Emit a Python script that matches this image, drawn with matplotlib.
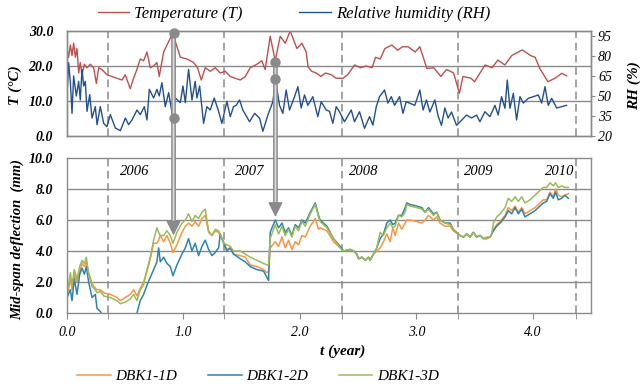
import matplotlib
matplotlib.use('Agg')
import matplotlib.pyplot as plt
from matplotlib.patches import ConnectionPatch
from matplotlib.lines import Line2D
from matplotlib.ticker import FormatStrFormatter

plt.rcParams['font.family'] = ['Liberation Serif', 'DejaVu Serif']

# temperature (T, deg C)
t_temp = [0.00, 0.014, 0.029, 0.043, 0.057, 0.072, 0.086, 0.10, 0.114, 0.129,
          0.149, 0.172, 0.20, 0.229, 0.252, 0.272, 0.30, 0.343, 0.386, 0.429,
          0.472, 0.50, 0.543, 0.572, 0.60, 0.629, 0.658, 0.687, 0.715, 0.744,
          0.772, 0.792, 0.83, 0.873, 0.91, 0.93, 0.973, 1.03, 1.087, 1.121,
          1.153, 1.187, 1.23, 1.273, 1.316, 1.359, 1.402, 1.445, 1.488, 1.531,
          1.573, 1.631, 1.673, 1.702, 1.745, 1.788, 1.831, 1.874, 1.917, 1.974,
          2.017, 2.054,
          2.07, 2.10, 2.14, 2.18, 2.22, 2.27, 2.31, 2.37, 2.41, 2.47,
          2.52, 2.57, 2.62, 2.65, 2.69, 2.73, 2.79, 2.84, 2.88, 2.93,
          2.99, 3.03, 3.09, 3.15, 3.21, 3.26, 3.32, 3.37, 3.40, 3.47,
          3.50, 3.59, 3.65, 3.70, 3.76, 3.82, 3.91, 3.98, 4.02, 4.06,
          4.13, 4.19, 4.25, 4.29]
temp = [25, 22.5, 26, 23, 26.5, 22.5, 25, 18, 21, 17.5,
        20.5, 19.5, 20.5, 19.5, 15, 19.5, 19, 17.5, 17, 16.5,
        16, 17.5, 13.5, 16.5, 19, 22, 21.5, 24, 19.5, 20,
        21, 17, 24, 27, 29.5, 27, 22.5, 22, 21, 19.5,
        16, 19.5, 18.5, 19.5, 18, 18.5, 17, 16.5, 16, 17,
        19.5, 20.5, 21.5, 19, 28.5, 21.5, 28.5, 26.5, 30, 25,
        26.5, 24,
        19.8, 18.5, 18, 17, 18, 17.5, 16.5, 16.5, 17.5, 20.3,
        19.5, 20, 19.5, 22.5, 22, 25, 26, 24.5, 25.5, 25.5,
        24, 25.5, 19.3, 19.5, 17, 19, 18, 12.2, 17, 16.5,
        15.5, 20.3, 19.5, 21.7, 20.3, 23, 24.6, 23, 22.5, 19.3,
        15.5, 16.5, 17.9, 17.2]

# relative humidity (RH, %)
t_rh = [0.000, 0.014, 0.029, 0.043, 0.057, 0.080, 0.100, 0.114, 0.129, 0.143,
        0.157, 0.172, 0.195, 0.215, 0.243, 0.258, 0.286, 0.315, 0.343, 0.372,
        0.415, 0.458, 0.501, 0.529, 0.558, 0.601, 0.629, 0.664, 0.687, 0.707,
        0.744, 0.772, 0.792, 0.815, 0.844, 0.873, 0.910, 0.930, 0.973, 0.996,
        1.016, 1.044, 1.073, 1.101, 1.116, 1.139, 1.173, 1.201, 1.230, 1.264,
        1.302, 1.330, 1.373, 1.402, 1.430, 1.453, 1.482,
        1.51, 1.568, 1.611, 1.654, 1.682, 1.725, 1.768, 1.791, 1.825, 1.854,
        1.882, 1.911, 1.954, 1.983, 2.011, 2.04, 2.068, 2.111, 2.154, 2.183,
        2.226, 2.254, 2.283, 2.312, 2.34, 2.383, 2.441, 2.469, 2.512, 2.555,
        2.598, 2.627, 2.656, 2.684, 2.727, 2.756, 2.785, 2.813, 2.856, 2.885,
        2.913, 2.987, 3.03, 3.058, 3.087, 3.116, 3.159, 3.187, 3.216, 3.245,
        3.273, 3.302, 3.345, 3.374, 3.431, 3.474, 3.517, 3.546, 3.589, 3.632,
        3.675, 3.703, 3.732, 3.761, 3.781, 3.804, 3.833, 3.861, 3.89, 3.919,
        3.962, 4.005, 4.047, 4.076, 4.105, 4.133, 4.162, 4.205, 4.248, 4.29]
rh = [51, 75, 60, 37, 65, 50, 61, 47, 70, 57.5,
      61, 38.5, 51, 33.5, 42, 28.5, 42, 29.5, 27, 36,
      26, 24, 33.5, 28.5, 32, 39.5, 36, 42, 32, 55,
      48.5, 55, 50, 60, 42, 52.5, 33.5, 48.5, 45, 57.5,
      45, 70, 47, 61, 48.5, 57.5, 29.5, 42, 39.5, 48.5,
      38.5, 29.5, 46, 34.5, 42, 43, 47,
      39.5, 30.7, 37, 33.3, 23.5, 35.7, 45.7, 62, 43, 37,
      54.5, 39.5, 49.5, 57, 41, 50.8, 43, 49.5, 34.5, 45.7,
      39.5, 38.5, 29.5, 42, 38.2, 30.7, 39.5, 30.7, 38.2, 25.8,
      34.5, 28.2, 42, 49.5, 54.5, 44.7, 49.5, 43, 49.5, 37,
      45.7, 43, 54.5, 39.5, 47, 38, 47, 35, 28, 41,
      33.5, 38, 28, 30.5, 35.7, 33.5, 35.7, 30.7, 38.2, 34.5,
      43, 35.7, 49.5, 40.8, 62, 40.8, 52, 32, 49.5, 44.7,
      48.3, 49.5, 50.8, 44.7, 57, 43, 48.3, 41, 42, 43]

# mid-span deflection (mm)
t_def = [0.000, 0.029, 0.043, 0.063, 0.086, 0.109, 0.129, 0.149, 0.166, 0.186,
         0.215, 0.243, 0.258, 0.286, 0.315, 0.372, 0.429, 0.458, 0.501, 0.543,
         0.572, 0.601, 0.629, 0.658, 0.687, 0.715, 0.744, 0.772, 0.787, 0.801,
         0.830, 0.858, 0.887, 0.910, 0.944, 0.987, 1.016, 1.044, 1.073, 1.101,
         1.130, 1.159, 1.187, 1.216, 1.244, 1.273, 1.302, 1.316, 1.345, 1.373,
         1.402, 1.430, 1.488, 1.531, 1.573, 1.631, 1.688, 1.717, 1.731, 1.745,
         1.788, 1.817, 1.846, 1.874, 1.903, 1.931, 1.960, 1.989, 2.017, 2.046,
         2.089, 2.132, 2.160, 2.174, 2.232, 2.289, 2.346, 2.375, 2.432, 2.461,
         2.489, 2.503, 2.532, 2.561, 2.589, 2.603, 2.632, 2.66, 2.689, 2.718,
         2.746, 2.775, 2.798, 2.818, 2.847, 2.875, 2.904, 2.918, 2.947, 3.004,
         3.047, 3.075, 3.104, 3.147, 3.175, 3.204, 3.247, 3.29, 3.318, 3.375,
         3.404, 3.433, 3.461, 3.49, 3.518, 3.547, 3.576, 3.604, 3.633, 3.647,
         3.662, 3.69, 3.719, 3.762, 3.79, 3.819, 3.848, 3.876, 3.905, 3.933,
         3.976, 4.019, 4.062, 4.09, 4.119, 4.148, 4.176, 4.196, 4.219, 4.248,
         4.276, 4.305]
dbk1_1d = [1.0, 2.2, 1.5, 2.5, 2.0, 2.7, 3.2, 3.0, 3.3, 2.6,
           1.9, 1.6, 1.5, 1.5, 1.3, 1.2, 1.0, 0.8, 1.0, 1.2,
           1.5, 1.1, 1.6, 2.0, 2.7, 3.5, 4.5, 4.5, 4.7, 5.0,
           4.6, 5.0, 4.5, 3.9, 4.4, 5.2, 5.6, 5.8, 5.6, 5.9,
           5.6, 6.1, 6.3, 5.2, 5.0, 5.3, 5.2, 5.0, 4.6, 4.1,
           4.2, 3.8, 3.7, 3.6, 3.1, 3.0, 2.8, 2.6, 2.7, 4.2,
           4.6, 4.3, 4.9, 4.2, 4.7, 4.1, 4.6, 4.4, 5.0, 4.9,
           5.6, 6.1, 5.4, 5.5, 5.3, 4.6, 4.2, 4.0, 4.1, 4.0,
           3.8, 3.5, 3.6, 3.4, 3.6, 3.4, 3.8, 4.0, 4.2, 4.6,
           5.1, 4.6, 5.5, 5.0, 5.8, 5.4, 5.8, 6.0, 6.0, 5.9,
           5.8, 6.0, 6.3, 6.0, 6.2, 5.8, 5.6, 5.6, 5.3, 5.0,
           4.9, 5.1, 4.9, 5.2, 4.9, 5.0, 4.8, 4.9, 4.9, 5.1,
           5.4, 5.7, 5.9, 6.3, 6.8, 6.6, 6.9, 6.5, 6.8, 6.4,
           6.6, 6.8, 7.1, 7.3, 7.3, 7.8, 7.5, 8.0, 7.6, 7.5,
           7.6, 7.7]
dbk1_2d = [1.0, 1.5, 0.8, 2.2, 1.2, 2.5, 2.9, 2.5, 3.0, 2.0,
           1.0, 1.2, 0.3, 0.1, -0.3, -1.0, -1.5, -1.5, -1.2, -0.8,
           -0.4, 0.0, 0.8, 1.2, 1.8, 2.3, 2.8, 3.3, 4.2, 3.3,
           3.6, 3.2, 3.0, 2.4, 3.1, 3.8, 4.2, 4.8, 4.0, 4.5,
           3.7, 4.3, 4.7, 4.1, 3.7, 3.9, 4.2, 5.1, 4.5, 4.0,
           4.2, 3.8, 3.5, 3.3, 3.0, 2.8, 2.7, 2.3, 2.1, 5.2,
           6.0, 5.5, 5.8, 5.2, 5.5, 5.0, 5.7, 5.5, 6.0, 5.8,
           6.5, 7.1, 6.3, 6.0, 5.6, 4.8, 4.3, 4.0, 4.1, 4.0,
           3.8, 3.5, 3.6, 3.4, 3.6, 3.4, 3.8, 4.2, 4.8, 5.1,
           5.8, 6.0, 5.7, 5.8, 6.3, 6.3, 6.8, 7.1, 7.0, 6.9,
           6.8, 6.5, 6.8, 6.4, 6.5, 6.0, 5.8, 5.8, 5.4, 5.0,
           4.9, 5.1, 4.9, 5.2, 4.9, 5.0, 4.8, 4.8, 4.9, 5.1,
           5.3, 5.6, 5.8, 6.2, 6.6, 6.4, 6.8, 6.4, 6.7, 6.2,
           6.4, 6.6, 6.9, 7.1, 7.2, 7.7, 7.4, 7.8, 7.3, 7.4,
           7.6, 7.4]
dbk1_3d = [1.2, 2.6, 1.8, 2.8, 2.2, 3.0, 3.4, 3.2, 3.6, 2.5,
           1.7, 1.5, 1.3, 1.4, 1.1, 1.0, 0.8, 0.6, 0.7, 0.9,
           1.2, 0.8, 1.5, 1.8, 2.8, 3.6, 4.7, 5.5, 5.2, 5.0,
           5.0, 5.3, 5.0, 4.5, 5.2, 5.8, 6.0, 6.4, 5.9, 6.3,
           6.1, 6.5, 6.7, 5.3, 5.0, 5.4, 5.3, 5.1, 4.5, 4.4,
           4.3, 4.0, 4.0, 3.8, 3.6, 3.4, 3.2, 3.1, 3.1, 4.8,
           5.7, 5.1, 5.6, 5.0, 5.4, 4.9, 5.6, 5.3, 5.9, 5.6,
           6.4, 7.0, 6.2, 5.9, 5.5, 4.8, 4.2, 4.0, 4.1, 4.0,
           3.8, 3.5, 3.6, 3.4, 3.6, 3.4, 3.8, 4.2, 5.2, 5.0,
           5.5, 5.8, 5.5, 5.6, 6.3, 6.2, 6.5, 7.0, 6.9, 6.8,
           6.7, 6.5, 6.7, 6.3, 6.5, 6.0, 5.8, 5.7, 5.4, 5.0,
           4.9, 5.1, 4.9, 5.2, 4.9, 5.0, 4.8, 4.8, 4.9, 5.1,
           5.8, 6.2, 6.4, 6.8, 7.4, 7.2, 7.5, 7.2, 7.5, 7.1,
           7.3, 7.6, 7.9, 8.1, 8.1, 8.4, 8.2, 8.4, 8.1, 8.2,
           8.1, 8.1]

year_bounds = [0.35, 1.35, 2.36, 3.36, 4.37]
year_labels = ['2006', '2007', '2008', '2009', '2010']
year_label_t = [0.58, 1.57, 2.55, 3.54, 4.23]

# highlighted points and arrows
mark_t = [0.915, 1.79]
mark_T = [29.4, 21.2]
mark_RH = [33.5, 63.0]
arrow_tip = [5.0, 6.2]

RED = '#C0504D'
NAVY = '#23508F'
ORANGE = '#F79646'
TEAL = '#2F84AE'
GREEN = '#9BBB59'
GRID = '#8a8a8a'
DASH = '#8a8a8a'
MARK = '#8a8a8a'

W, H = 643, 384
fig = plt.figure(figsize=(6.43, 3.84), dpi=100)
left, right = 67, 591
ax1 = fig.add_axes([left / W, 1 - 136 / H, (right - left) / W, 105 / H])
ax2 = fig.add_axes([left / W, 1 - 313 / H, (right - left) / W, 155 / H])

tick_bold = dict(fontsize=10, fontweight='bold', fontstyle='italic')
tick_reg = dict(fontsize=10, fontstyle='italic')

# ---- upper panel: T and RH
ax1.set_xlim(0, 4.5)
ax1.set_ylim(0, 30)
ax1.set_yticks([0, 10, 20, 30])
ax1.yaxis.set_major_formatter(FormatStrFormatter('%.1f'))
ax1.set_xticks([])
ax1.tick_params(axis='y', length=0, pad=10)
for lab in ax1.get_yticklabels():
    lab.set(**tick_bold)
for v in [10, 20]:
    ax1.axhline(v, color=GRID, lw=1.0, zorder=1)
for b in year_bounds:
    ax1.axvline(b, color=DASH, lw=1.1, ls=(0, (5, 3)), zorder=1)
l_T, = ax1.plot(t_temp, temp, color=RED, lw=1.0, zorder=2)

ax1b = ax1.twinx()
ax1b.set_ylim(20, 98.75)
ax1b.set_yticks([20, 35, 50, 65, 80, 95])
ax1b.tick_params(axis='y', length=3, color=GRID, pad=2)
for lab in ax1b.get_yticklabels():
    lab.set(**tick_reg)
l_RH, = ax1b.plot(t_rh, rh, color=NAVY, lw=1.0, zorder=2)

for a in (ax1, ax1b, ax2):
    for s in a.spines.values():
        s.set_color(GRID)
        s.set_linewidth(1.0)

# ---- lower panel: deflection
ax2.set_xlim(0, 4.5)
ax2.set_ylim(0, 10)
ax2.set_yticks([0, 2, 4, 6, 8, 10])
ax2.yaxis.set_major_formatter(FormatStrFormatter('%.1f'))
ax2.set_xticks([0, 1, 2, 3, 4])
ax2.xaxis.set_major_formatter(FormatStrFormatter('%.1f'))
ax2.set_xticks(year_bounds, minor=True)
ax2.tick_params(axis='y', length=0, pad=10)
ax2.tick_params(axis='x', which='both', length=4, color=GRID, pad=5)
for lab in ax2.get_yticklabels():
    lab.set(**tick_bold)
for lab in ax2.get_xticklabels():
    lab.set(**tick_reg)
for v in [2, 4, 6, 8]:
    ax2.axhline(v, color=GRID, lw=1.0, zorder=1)
for b in year_bounds:
    ax2.axvline(b, color=DASH, lw=1.1, ls=(0, (5, 3)), zorder=1)
for x, s in zip(year_label_t, year_labels):
    ax2.text(x, 9.1, s, ha='center', va='center', fontsize=10.5,
             fontstyle='italic')

l1, = ax2.plot(t_def, dbk1_1d, color=ORANGE, lw=1.1, zorder=2)
l2, = ax2.plot(t_def, dbk1_2d, color=TEAL, lw=1.1, zorder=2)
l3, = ax2.plot(t_def, dbk1_3d, color=GREEN, lw=1.1, zorder=2)

# ---- arrows from the weather peaks down to the deflection
for t, top, tip in zip(mark_t, mark_T, arrow_tip):
    for lw, c in [(3.4, MARK), (1.3, '#dcdcdc')]:
        fig.add_artist(ConnectionPatch(xyA=(t, top), coordsA='data', axesA=ax1,
                                       xyB=(t, tip + 0.7), coordsB='data', axesB=ax2,
                                       arrowstyle='-', color=c, lw=lw, zorder=3))
    fig.add_artist(ConnectionPatch(xyA=(t, tip + 0.9), coordsA='data', axesA=ax2,
                                   xyB=(t, tip), coordsB='data', axesB=ax2,
                                   arrowstyle='-|>,head_length=0.9,head_width=0.45',
                                   mutation_scale=10, color=MARK, lw=1, zorder=4))
for t, T, r in zip(mark_t, mark_T, mark_RH):
    fig.add_artist(Line2D([t], [T], transform=ax1.transData, marker='o', ms=6.5,
                          color=MARK, ls='none', zorder=5))
    fig.add_artist(Line2D([t], [r], transform=ax1b.transData, marker='o', ms=6.5,
                          color=MARK, ls='none', zorder=5))

# ---- axis titles
fig.text(15 / W, 1 - 85 / H, 'T (°C)', rotation=90, ha='center', va='center',
         fontsize=11, fontweight='bold', fontstyle='italic')
fig.text(634 / W, 1 - 86 / H, 'RH (%)', rotation=90, ha='center', va='center',
         fontsize=11, fontweight='bold', fontstyle='italic')
fig.text(17 / W, 1 - 240 / H, 'Mid-span deflection  (mm)', rotation=90,
         ha='center', va='center', fontsize=10.5, fontweight='bold',
         fontstyle='italic')
fig.text(343 / W, 1 - 351 / H, 't (year)', ha='center', va='center',
         fontsize=11, fontweight='bold', fontstyle='italic')

# ---- legends
fig.legend([l_T, l_RH], ['Temperature (T)', 'Relative humidity (RH)'],
           loc='center', bbox_to_anchor=(294 / W, 1 - 14 / H), ncol=2,
           frameon=False, prop=dict(family='Liberation Serif', style='italic', size=12),
           handlelength=1.9, handletextpad=0.3, columnspacing=3.4,
           borderpad=0, borderaxespad=0)
fig.legend([l1, l2, l3], ['DBK1-1D', 'DBK1-2D', 'DBK1-3D'],
           loc='center', bbox_to_anchor=(258 / W, 1 - 376 / H), ncol=3,
           frameon=False, prop=dict(family='Liberation Serif', style='italic', size=11),
           handlelength=2.2, handletextpad=0.3, columnspacing=2.0,
           borderpad=0, borderaxespad=0)

fig.savefig('out.png', dpi=100)
